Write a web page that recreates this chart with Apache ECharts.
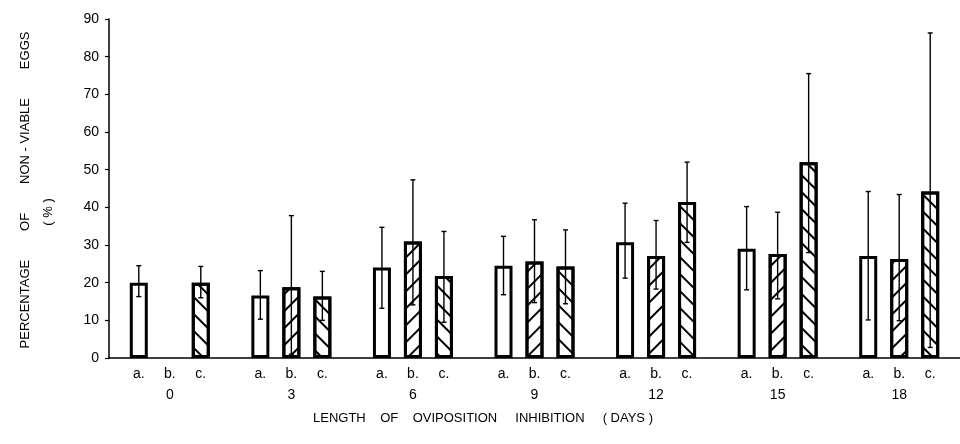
<!DOCTYPE html>
<html>
<head>
<meta charset="utf-8">
<script src="https://cdn.jsdelivr.net/npm/echarts@6/dist/echarts.min.js"></script>
<style>
  html,body{margin:0;padding:0;background:#fff}
  #chart{width:960px;height:444px}
</style>
</head>
<body>
<div id="chart"></div>
<script>
// days of oviposition inhibition
const days = ['0', '3', '6', '9', '12', '15', '18'];
const subLabels = ['a.', 'b.', 'c.'];

// mean % non-viable eggs
const meanA = [20, 16.6, 24, 24.5, 30.7, 29, 27.1];
const meanB = [null, 18.8, 30.9, 25.6, 27.1, 27.6, 26.3];
const meanC = [20, 16.3, 21.8, 24.3, 41.4, 52, 44.2];

// error bar ranges
const lowA  = [16.3, 10.3, 13.2, 16.8, 21.2, 18.1, 10.1];
const highA = [24.5, 23.2, 34.7, 32.3, 41.1, 40.2, 44.2];
const lowB  = [null, 1, 14.1, 14.7, 18.3, 15.7, 9.9];
const highB = [null, 37.8, 47.3, 36.7, 36.5, 38.7, 43.4];
const lowC  = [16, 10, 9.5, 14.4, 30.7, 28, 2.8];
const highC = [24.3, 23, 33.6, 34, 52, 75.5, 86.3];

const yTicks = { min: 0, max: 90, interval: 10 };

const FONT = 'Liberation Sans';
const BAR_W = 18, BAR_GAP = 13;

function barSeries(name, values, idx, decal){
  return {
    name: name, type: 'bar', barWidth: BAR_W, barGap: (BAR_GAP / BAR_W * 100).toFixed(1) + '%',
    data: values.map(v => v == null ? { value: 0, itemStyle: { borderWidth: 0 } } : v),
    itemStyle: { color: '#fff', borderColor: '#000', borderWidth: 3, decal: decal },
    label: { show: true, position: 'bottom', distance: 9, formatter: subLabels[idx],
             color: '#000', fontFamily: FONT, fontSize: 14 },
    z: 2
  };
}

function errSeries(low, high, idx){
  const offset = (idx - 1) * (BAR_W + BAR_GAP);
  const data = [];
  low.forEach((l, i) => { if (l != null) data.push([i, l, high[i]]); });
  return {
    type: 'custom', z: 5, silent: true,
    encode: { x: 0, y: [1, 2] },
    data: data,
    renderItem: function(params, api){
      const x = api.coord([api.value(0), 0])[0] + offset;
      const yLo = api.coord([api.value(0), api.value(1)])[1];
      const yHi = api.coord([api.value(0), api.value(2)])[1];
      const st = { stroke: '#000', lineWidth: 1.4 };
      return { type: 'group', children: [
        { type: 'line', shape: { x1: x, y1: yLo, x2: x, y2: yHi }, style: st },
        { type: 'line', shape: { x1: x - 2.5, y1: yHi, x2: x + 2.5, y2: yHi }, style: st },
        { type: 'line', shape: { x1: x - 2.5, y1: yLo, x2: x + 2.5, y2: yLo }, style: st }
      ]};
    }
  };
}

const hatchB = { symbol: 'rect', symbolSize: 1, dashArrayX: [1, 0], dashArrayY: [1.6, 9.5], rotation: -Math.PI / 4, color: '#000' };
const hatchC = { symbol: 'rect', symbolSize: 1, dashArrayX: [1, 0], dashArrayY: [1.6, 9.5], rotation: Math.PI / 4, color: '#000' };

const chart = echarts.init(document.getElementById('chart'));
chart.setOption({
  animation: false,
  backgroundColor: '#fff',
  grid: { left: 109, top: 19, width: 861, height: 339 },
  xAxis: {
    type: 'category', data: days, boundaryGap: true,
    axisLine: { lineStyle: { color: '#000', width: 1.5 } },
    axisTick: { show: false },
    axisLabel: { margin: 30, color: '#000', fontFamily: FONT, fontSize: 14 }
  },
  yAxis: {
    type: 'value', min: yTicks.min, max: yTicks.max, interval: yTicks.interval,
    axisLine: { show: true, lineStyle: { color: '#000', width: 1.5 } },
    axisTick: { show: true, length: 4, lineStyle: { color: '#000', width: 1.2 } },
    splitLine: { show: false },
    axisLabel: { margin: 10, color: '#000', fontFamily: FONT, fontSize: 14 }
  },
  graphic: [
    { type: 'text', x: 25, y: 190, rotation: Math.PI / 2,
      style: { text: 'PERCENTAGE        OF        NON - VIABLE        EGGS', fontFamily: FONT, fontSize: 13,
               fill: '#000', align: 'center', verticalAlign: 'middle' } },
    { type: 'text', x: 48, y: 212, rotation: Math.PI / 2,
      style: { text: '( % )', fontFamily: FONT, fontSize: 13,
               fill: '#000', align: 'center', verticalAlign: 'middle' } },
    { type: 'text', x: 483, y: 418,
      style: { text: 'LENGTH    OF    OVIPOSITION     INHIBITION     ( DAYS )', fontFamily: FONT, fontSize: 13,
               fill: '#000', align: 'center', verticalAlign: 'middle' } }
  ],
  series: [
    barSeries('a', meanA, 0, null),
    barSeries('b', meanB, 1, hatchB),
    barSeries('c', meanC, 2, hatchC),
    errSeries(lowA, highA, 0),
    errSeries(lowB, highB, 1),
    errSeries(lowC, highC, 2)
  ]
});
</script>
</body>
</html>
